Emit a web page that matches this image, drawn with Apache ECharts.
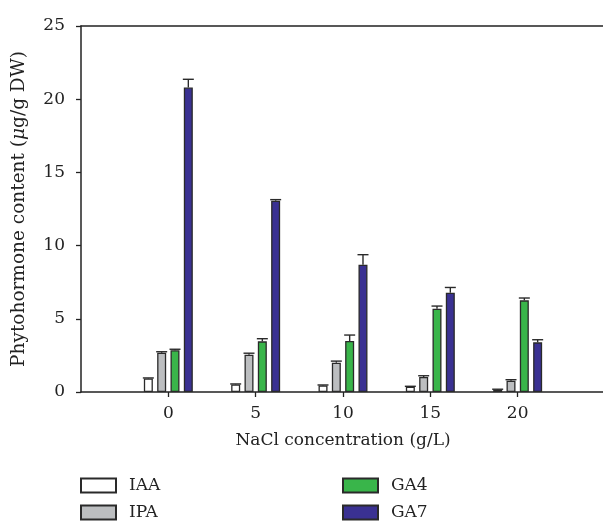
<!DOCTYPE html>
<html><head><meta charset="utf-8">
<script src="https://cdn.jsdelivr.net/npm/echarts@6/dist/echarts.min.js"></script>
<style>html,body{margin:0;padding:0;background:#fff}#c{width:603px;height:521px}</style>
</head><body><div id="c"></div>
<script>
const categories = ['', '0', '5', '10', '15', '20', ''];
const seriesNames = ['IAA', 'IPA', 'GA4', 'GA7'];
const iaa = ['-', 0.93, 0.52, 0.45, 0.36, 0.16, '-'];
const ipa = ['-', 2.68, 2.55, 2.0, 1.02, 0.77, '-'];
const ga4 = ['-', 2.85, 3.46, 3.48, 5.69, 6.26, '-'];
const ga7 = ['-', 20.8, 13.07, 8.7, 6.78, 3.39, '-'];
const iaaErr = [0, 0.03, 0.03, 0.03, 0.03, 0.03, 0];
const ipaErr = [0, 0.07, 0.1, 0.11, 0.09, 0.07, 0];
const ga4Err = [0, 0.07, 0.18, 0.41, 0.18, 0.16, 0];
const ga7Err = [0, 0.56, 0.07, 0.68, 0.36, 0.18, 0];
const yTicks = [0, 5, 10, 15, 20, 25];

const values = [iaa, ipa, ga4, ga7];
const errs = [iaaErr, ipaErr, ga4Err, ga7Err];
const colors = ['#ffffff', '#bcbec0', '#39b54a', '#3a3192'];
const FONT = 'DejaVu Serif';
const FS = 17;
const BAR_W = 9, STEP = 13.33;

const chart = echarts.init(document.getElementById('c'));
const series = [];
values.forEach((v, k) => {
  series.push({
    name: seriesNames[k], type: 'bar', data: v, barWidth: BAR_W, barGap: '48%',
    itemStyle: { color: colors[k], borderColor: '#2a2a2a', borderWidth: 1.3 },
    z: 2
  });
});
values.forEach((v, k) => {
  const off = (k - 1.5) * STEP;
  series.push({
    type: 'custom', z: 3, silent: true,
    data: v.map((y, i) => [i, y === '-' ? null : y, errs[k][i]]).filter(d => d[1] !== null),
    renderItem: function (params, api) {
      const base = api.coord([api.value(0), api.value(1)]);
      const top = api.coord([api.value(0), api.value(1) + api.value(2)]);
      const x = base[0] + off;
      const st = { stroke: '#2a2a2a', lineWidth: 1.4 };
      return { type: 'group', children: [
        { type: 'line', shape: { x1: x, y1: base[1], x2: x, y2: top[1] }, style: st },
        { type: 'line', shape: { x1: x - 5.5, y1: top[1], x2: x + 5.5, y2: top[1] }, style: st }
      ]};
    }
  });
});

const legendText = { fontFamily: FONT, fontSize: FS, color: '#222', padding: [0, 0, 0, 8] };
const legendPos = [[80, 477], [80, 504], [342, 477], [342, 504]];
const legends = seriesNames.map((n, k) => ({
  left: legendPos[k][0], top: legendPos[k][1], padding: 0, itemWidth: 35, itemHeight: 14,
  icon: 'rect', data: [n], textStyle: legendText
}));
chart.setOption({
  animation: false,
  textStyle: { fontFamily: FONT },
  grid: { left: 81, width: 524, top: 26, bottom: 129, containLabel: false, outerBoundsMode: 'none' },
  legend: legends,
  xAxis: [{
    type: 'category', data: categories, boundaryGap: false,
    axisLine: { lineStyle: { color: '#222', width: 1.5 } },
    axisTick: { length: 5, lineStyle: { color: '#222', width: 1.3 }, interval: (i, v) => v !== '' },
    axisLabel: { fontFamily: FONT, fontSize: FS, color: '#222', margin: 13, interval: 0 },
    name: 'NaCl concentration (g/L)', nameLocation: 'middle', nameGap: 40,
    nameTextStyle: { fontFamily: FONT, fontSize: FS, color: '#222' },
    splitLine: { show: false }
  }, {
    type: 'category', data: categories, boundaryGap: false, position: 'top',
    axisLine: { lineStyle: { color: '#222', width: 1.5 } },
    axisTick: { show: false }, axisLabel: { show: false }, splitLine: { show: false }
  }],
  yAxis: {
    type: 'value', min: yTicks[0], max: yTicks[yTicks.length - 1], interval: 5,
    axisLine: { show: true, lineStyle: { color: '#222', width: 1.5 } },
    axisTick: { show: true, length: 5, lineStyle: { color: '#222', width: 1.3 } },
    axisLabel: { fontFamily: FONT, fontSize: FS, color: '#222', margin: 16 },
    splitLine: { show: false },
    name: '{a|Phytohormone content (}{i|μ}{a|g/g DW)}', nameLocation: 'middle', nameRotate: 90, nameGap: 52,
    nameTextStyle: { fontFamily: FONT, fontSize: 18.5, color: '#222',
      rich: { a: { fontFamily: FONT, fontSize: 18.5, color: '#222' },
              i: { fontFamily: FONT, fontSize: 18.5, color: '#222', fontStyle: 'italic' } } }
  },
  series: series
});
</script></body></html>
